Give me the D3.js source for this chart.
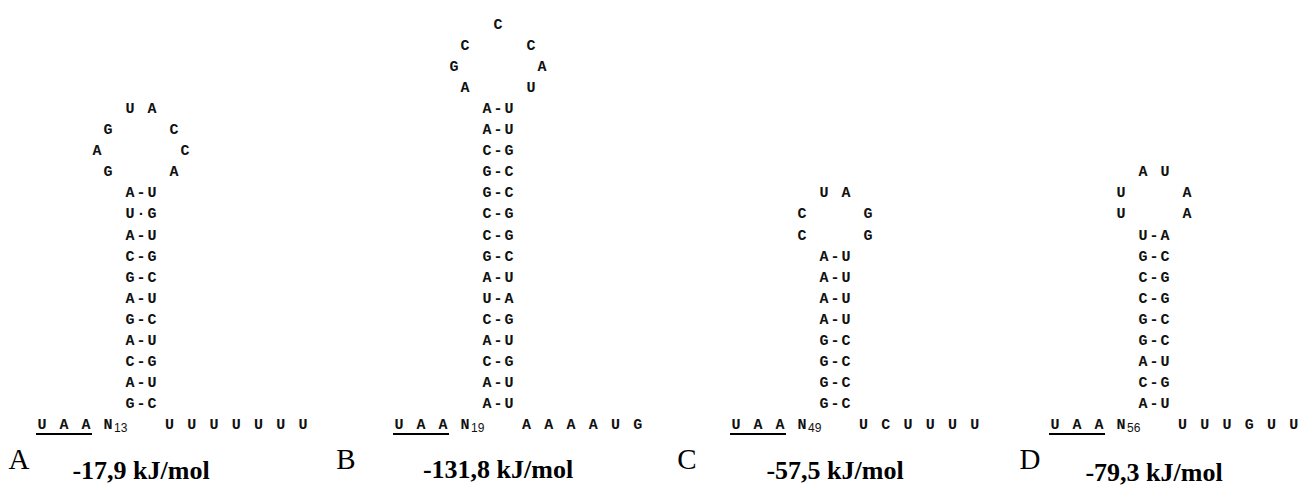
<!DOCTYPE html>
<html>
<head>
<meta charset="utf-8">
<script src="https://cdn.jsdelivr.net/npm/d3@7"></script>
<style>
  html, body { margin: 0; padding: 0; background: #fff; }
  svg { display: block; }
</style>
</head>
<body>
<script>
// ---------------- data ----------------
const panels = ["A", "B", "C", "D"];
// stems listed top -> bottom (5' base - 3' base)
const stemA = ["A-U","U·G","A-U","C-G","G-C","A-U","G-C","A-U","C-G","A-U","G-C"];
const stemB = ["A-U","A-U","C-G","G-C","G-C","C-G","C-G","G-C","A-U","U-A","C-G","A-U","C-G","A-U","A-U"];
const stemC = ["A-U","A-U","A-U","A-U","G-C","G-C","G-C","G-C"];
const stemD = ["U-A","G-C","C-G","C-G","G-C","G-C","A-U","C-G","A-U"];
// loops read 5' -> 3' (left side upward, top, right side downward)
const loopA = ["G","A","G","U","A","C","C","A"];
const loopB = ["A","G","C","C","C","A","U"];
const loopC = ["C","C","U","A","G","G"];
const loopD = ["U","U","A","U","A","A"];
const stopCodon = ["U","A","A"];
const spacerLengths = [13, 19, 49, 56];
const tailA = ["U","U","U","U","U","U","U"];
const tailB = ["A","A","A","A","U","G"];
const tailC = ["U","C","U","U","U","U"];
const tailD = ["U","U","U","G","U","U"];
const energies = [-17.9, -131.8, -57.5, -79.3];

const stems = [stemA, stemB, stemC, stemD];
const loops = [loopA, loopB, loopC, loopD];
const tails = [tailA, tailB, tailC, tailD];

// ---------------- layout ----------------
const W = 1314, H = 486;
const stemCenterX = d3.scaleOrdinal(panels, [141, 498, 835, 1154]);
const letterX = d3.scaleOrdinal(panels, [19, 346, 687, 1030]);
const energyBase = d3.scaleOrdinal(panels, [479, 478, 479, 481]);
const colW = 11;           // one monospace column
const y = d3.scaleLinear().domain([0, 1]).range([424, 424 - 21.1]); // row index (upwards) -> y
const sideCols = {2: [-3, -3], 3: [-3, -4, -3]};
const topCols = {1: [0], 2: [-1, 1]};
const fmt = v => d3.format(".1f")(v).replace("\u2212", "-").replace(".", ",") + " kJ/mol";

const svg = d3.select("body").append("svg")
  .attr("width", W).attr("height", H)
  .attr("viewBox", `0 0 ${W} ${H}`);
svg.append("rect").attr("width", W).attr("height", H).attr("fill", "#fff");

const mono = "'Courier New', 'Liberation Mono', monospace";
const serif = "'Times New Roman', 'Liberation Serif', serif";

panels.forEach((p, i) => {
  const cx = stemCenterX(p);
  const x = d3.scaleLinear().domain([0, 1]).range([cx, cx + colW]);
  const stem = stems[i], loop = loops[i], tail = tails[i];
  const g = svg.append("g").attr("class", "panel-" + p);

  // nucleotides as [char, col, row]
  const nts = [];
  stem.forEach((pair, k) => {
    const row = stem.length - k;
    pair.split("").forEach((ch, j) => nts.push([ch, j - 1, row]));
  });
  const n = loop.length;
  const side = n >= 7 ? 3 : 2;
  const top = n - 2 * side;
  const base = stem.length;
  for (let k = 0; k < side; k++) nts.push([loop[k], sideCols[side][k], base + 1 + k]);
  for (let k = 0; k < top; k++) nts.push([loop[side + k], topCols[top][k], base + side + 1]);
  for (let k = 0; k < side; k++) nts.push([loop[side + top + k], -sideCols[side][side - 1 - k], base + side - k]);

  g.selectAll("text.nt").data(nts).join("text")
    .attr("class", "nt")
    .attr("x", d => x(d[1]))
    .attr("y", d => y(d[2]))
    .attr("dy", "0.36em")
    .attr("text-anchor", "middle")
    .attr("font-family", mono)
    .attr("font-weight", "bold")
    .attr("font-size", 15)
    .attr("fill", "#111")
    .text(d => d[0]);

  // bottom row: stop codon, spacer N, tail
  const stopCols = stopCodon.map((c, k) => -9 + 2 * k);
  g.selectAll("text.stop").data(stopCodon).join("text")
    .attr("class", "stop")
    .attr("x", (d, k) => x(stopCols[k]))
    .attr("y", y(0)).attr("dy", "0.36em")
    .attr("text-anchor", "middle")
    .attr("font-family", mono).attr("font-weight", "bold").attr("font-size", 15)
    .attr("fill", "#111")
    .text(d => d);
  g.append("line")
    .attr("x1", x(stopCols[0]) - 6).attr("x2", x(stopCols[2]) + 6)
    .attr("y1", y(0) + 10).attr("y2", y(0) + 10)
    .attr("stroke", "#000").attr("stroke-width", 2);

  g.append("text")
    .attr("x", x(-3)).attr("y", y(0)).attr("dy", "0.36em")
    .attr("text-anchor", "middle")
    .attr("font-family", mono).attr("font-weight", "bold").attr("font-size", 15)
    .attr("fill", "#111").text("N");
  g.append("text")
    .attr("x", x(-3) + 6).attr("y", y(0) + 8)
    .attr("font-family", "'Liberation Sans', Arial, sans-serif")
    .attr("font-size", 12).attr("fill", "#111")
    .text(spacerLengths[i]);

  g.selectAll("text.tail").data(tail).join("text")
    .attr("class", "tail")
    .attr("x", (d, k) => x(2.6 + 2.02 * k))
    .attr("y", y(0)).attr("dy", "0.36em")
    .attr("text-anchor", "middle")
    .attr("font-family", mono).attr("font-weight", "bold").attr("font-size", 15)
    .attr("fill", "#111")
    .text(d => d);

  // panel letter and free energy
  svg.append("text")
    .attr("x", letterX(p)).attr("y", 469)
    .attr("text-anchor", "middle")
    .attr("font-family", serif).attr("font-size", 29)
    .attr("fill", "#000").text(p);
  svg.append("text")
    .attr("x", cx).attr("y", energyBase(p))
    .attr("text-anchor", "middle")
    .attr("font-family", serif).attr("font-weight", "bold").attr("font-size", 26)
    .attr("fill", "#000").text(fmt(energies[i]));
});
</script>
</body>
</html>
